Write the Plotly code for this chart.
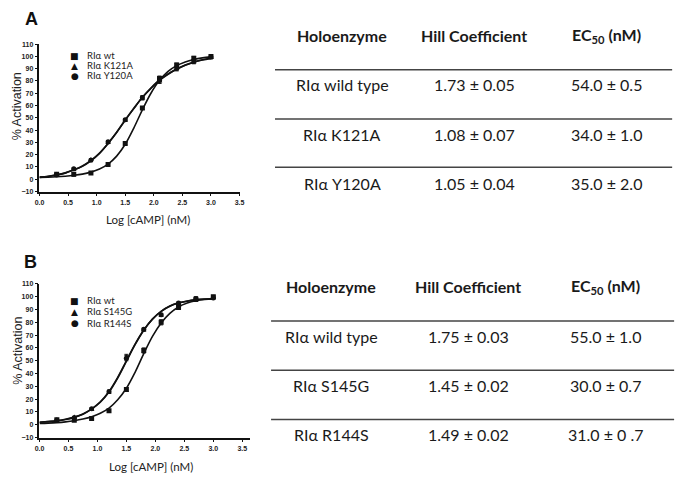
import plotly.graph_objects as go

W, H = 687, 482

# ---------------- data ----------------
log_camp = [0.3, 0.6, 0.9, 1.2, 1.5, 1.8, 2.1, 2.4, 2.7, 3.0]
curve_x = [0.0, 0.15, 0.3, 0.45, 0.6, 0.75, 0.9, 1.05, 1.2, 1.35, 1.5,
           1.65, 1.8, 1.95, 2.1, 2.25, 2.4, 2.55, 2.7, 2.85, 3.0]

# Panel A
a_names = ["RIα wt", "RIα K121A", "RIα Y120A"]
a_wt = [4, 4, 5, 12, 29, 58, 82, 93, 98.5, 100]
a_k121a = [4, 8, 16, 30, 48, 66, 80, 90, 95.5, 99]
a_y120a = [3.5, 8.5, 15.5, 30.5, 48.5, 66.5, 80.5, 90.5, 96, 99.5]
a_wt_err = [0.6, 1.5, 0.6, 0.8, 0.8, 1.2, 2.0, 1.5, 1.5, 1.0]
a_k121a_err = [0.6, 0.8, 0.8, 1.0, 1.0, 1.5, 2.0, 1.8, 1.5, 1.0]
a_y120a_err = [0.6, 0.8, 0.8, 1.0, 1.0, 1.5, 2.0, 1.8, 1.5, 1.0]
a_wt_fit = [1.5, 1.7, 2.0, 2.5, 3.2, 4.2, 5.8, 8.3, 12.3, 18.8, 28.5,
            41.7, 56.5, 70, 80.5, 87.8, 92.5, 95.5, 97.5, 98.8, 99.6]
a_k121a_fit = [1.5, 2.3, 3.5, 5.0, 7.5, 10.5, 15, 21, 29, 38, 48,
               57.5, 66.5, 74, 80.5, 85.5, 89.5, 92.7, 95.2, 97.0, 98.3]
a_y120a_fit = [1.8, 2.5, 3.6, 5.2, 7.7, 10.8, 15.3, 21.3, 29.3, 38.3, 48.3,
               57.8, 66.8, 74.3, 80.8, 85.8, 89.8, 93.0, 95.5, 97.3, 98.7]

# Panel B
b_names = ["RIα wt", "RIα S145G", "RIα R144S"]
b_wt = [4, 3.5, 5, 11, 27.5, 58, 80, 91.5, 98, 100]
b_s145g = [4, 6, 12, 25.5, 53, 74, 85.5, 94.5, 98.5, 99.5]
b_r144s = [3.5, 5.5, 12.5, 26, 52, 74.5, 86, 95, 98, 99]
b_wt_err = [0.6, 0.6, 0.6, 0.8, 1.5, 2.0, 2.0, 1.5, 1.5, 1.0]
b_s145g_err = [0.6, 0.6, 0.8, 1.0, 2.0, 1.0, 1.0, 1.0, 1.5, 1.0]
b_r144s_err = [0.6, 0.6, 0.8, 1.0, 2.0, 1.0, 1.0, 1.0, 1.5, 1.0]
b_wt_fit = [1.0, 1.3, 1.7, 2.3, 3.2, 4.5, 6.3, 9.0, 13, 19.5, 28.5,
            41, 55.5, 69, 79.5, 87, 92, 95, 96.8, 97.8, 98.3]
b_s145g_fit = [2.0, 2.5, 3.2, 4.3, 6.0, 8.5, 12.5, 18, 26, 37, 50,
               63, 74, 82.5, 88.5, 92.5, 95, 96.5, 97.5, 98, 98.3]
b_r144s_fit = [2.0, 2.5, 3.1, 4.1, 5.8, 8.3, 12.2, 17.6, 25.5, 36.5, 49.5,
               62.5, 73.8, 82.5, 88.6, 92.7, 95.2, 96.7, 97.6, 98.1, 98.4]

# tables
tbl_header = ["Holoenzyme", "Hill Coefficient", "EC<sub>50</sub> (nM)"]
a_tbl = [["RIα wild type", "1.73 ± 0.05", "54.0 ± 0.5"],
         ["RIα K121A", "1.08 ± 0.07", "34.0 ± 1.0"],
         ["RIα Y120A", "1.05 ± 0.04", "35.0 ± 2.0"]]
b_tbl = [["RIα wild type", "1.75 ± 0.03", "55.0 ± 1.0"],
         ["RIα S145G", "1.45 ± 0.02", "30.0 ± 0.7"],
         ["RIα R144S", "1.49 ± 0.02", "31.0 ± 0 .7"]]

x_title = "Log [cAMP] (nM)"
y_title = "% Activation"

symbols = ["square", "triangle-up", "circle"]
glyphs = ["■", "▲", "●"]

# ---------------- layout helpers ----------------
def px(x):
    return x / W

def py(y):
    return 1 - y / H

fig = go.Figure()

panels = [
    dict(xa="x", ya="y", names=a_names,
         pts=[a_wt, a_k121a, a_y120a], errs=[a_wt_err, a_k121a_err, a_y120a_err],
         fits=[a_wt_fit, a_k121a_fit, a_y120a_fit]),
    dict(xa="x2", ya="y2", names=b_names,
         pts=[b_wt, b_s145g, b_r144s], errs=[b_wt_err, b_s145g_err, b_r144s_err],
         fits=[b_wt_fit, b_s145g_fit, b_r144s_fit]),
]

for p in panels:
    for fit in p["fits"]:
        fig.add_trace(go.Scatter(x=curve_x, y=fit, mode="lines",
                                 line=dict(color="#111", width=1.6, shape="spline", smoothing=1.0),
                                 xaxis=p["xa"], yaxis=p["ya"], showlegend=False, hoverinfo="skip"))
    for name, ys, err, sym in zip(p["names"], p["pts"], p["errs"], symbols):
        fig.add_trace(go.Scatter(x=log_camp, y=ys, mode="markers", name=name,
                                 marker=dict(symbol=sym, size=5, color="#111"),
                                 error_y=dict(type="data", array=err, color="#111",
                                              thickness=1, width=2),
                                 xaxis=p["xa"], yaxis=p["ya"], showlegend=False))

axis_common = dict(showline=True, linecolor="#111", linewidth=1.6, ticks="outside",
                   ticklen=3, tickwidth=1.3, tickcolor="#111", showgrid=False,
                   zeroline=False, mirror=False,
                   tickfont=dict(family="Liberation Sans", size=7, color="#222", weight="bold"))

fig.update_layout(
    width=W, height=H, margin=dict(l=0, r=0, t=0, b=0),
    plot_bgcolor="white", paper_bgcolor="white", showlegend=False,
    xaxis=dict(domain=[px(35), px(238)], range=[0, 3.5], dtick=0.5, tick0=0,
               tickformat=".1f", anchor="y", **axis_common),
    yaxis=dict(domain=[py(190.3), py(40.7)], range=[-10, 110], dtick=10, tick0=0,
               anchor="x", **axis_common),
    xaxis2=dict(domain=[px(35), px(249)], range=[0, 3.64], dtick=0.5, tick0=0,
                tickformat=".1f", anchor="y2", **axis_common),
    yaxis2=dict(domain=[py(440), py(284)], range=[-10, 110], dtick=10, tick0=0,
                anchor="x2", **axis_common),
)

annotations = []
shapes = []

# axis titles
for (tx, ty) in [(144.7, 219), (148.5, 469)]:
    annotations.append(dict(text=x_title, x=px(tx), y=py(ty), xref="paper", yref="paper",
                            showarrow=False, xanchor="center", yanchor="middle",
                            font=dict(family="Lato", size=11.5, color="#222")))
for (tx, ty) in [(13, 104), (13, 352)]:
    annotations.append(dict(text=y_title, x=px(tx), y=py(ty), xref="paper", yref="paper",
                            showarrow=False, xanchor="center", yanchor="middle", textangle=-90,
                            font=dict(family="Liberation Sans", size=12.5, color="#222")))

# panel letters
for letter, (lx, ly) in zip(["A", "B"], [(27, 15), (26, 261.5)]):
    annotations.append(dict(text="<b>%s</b>" % letter, x=px(lx), y=py(ly), xref="paper",
                            yref="paper", showarrow=False, xanchor="center", yanchor="middle",
                            font=dict(family="Liberation Sans", size=18, color="#111")))

# in-plot legends
leg_font = dict(family="Lato", size=9.5, color="#222")
for names, rows in [(a_names, [52.7, 62.7, 72.7]), (b_names, [301, 312.5, 324])]:
    for name, g, ry in zip(names, glyphs, rows):
        annotations.append(dict(text=g, x=px(71), y=py(ry), xref="paper", yref="paper",
                                showarrow=False, xanchor="center", yanchor="middle",
                                font=dict(family="DejaVu Sans", size=9, color="#111")))
        annotations.append(dict(text=name, x=px(81), y=py(ry), xref="paper", yref="paper",
                                showarrow=False, xanchor="left", yanchor="middle",
                                font=leg_font))

# tables
def add_table(rows, cols_x, head_y, row_ys, line_ys, line_x0, line_x1):
    for hx, htxt in zip(cols_x, tbl_header):
        annotations.append(dict(text="<b>%s</b>" % htxt, x=px(hx), y=py(head_y),
                                xref="paper", yref="paper", showarrow=False,
                                xanchor="center", yanchor="middle",
                                font=dict(family="Lato", size=16, color="#1a1a1a")))
    for r, ry in zip(rows, row_ys):
        for cx, txt in zip(cols_x, r):
            annotations.append(dict(text=txt, x=px(cx), y=py(ry), xref="paper",
                                    yref="paper", showarrow=False, xanchor="center",
                                    yanchor="middle",
                                    font=dict(family="Lato", size=16, color="#1a1a1a")))
    for ly in line_ys:
        shapes.append(dict(type="line", xref="paper", yref="paper", x0=px(line_x0),
                           x1=px(line_x1), y0=py(ly), y1=py(ly),
                           line=dict(color="#444", width=1.5)))

add_table(a_tbl, [342, 476, 610], 32, [82, 132, 182], [66.7, 116.7, 165.7], 274, 677)
add_table(b_tbl, [331, 470, 609.5], 287, [337, 387, 437], [321.7, 371.7, 421.7], 270, 679)

fig.update_layout(annotations=annotations, shapes=shapes)

# remove the browser's default 8px body margin so the figure fills the window exactly
fig.write_html("out.html", config={"displayModeBar": False},
               post_script="document.body.style.margin='0';document.body.style.overflow='hidden';")
